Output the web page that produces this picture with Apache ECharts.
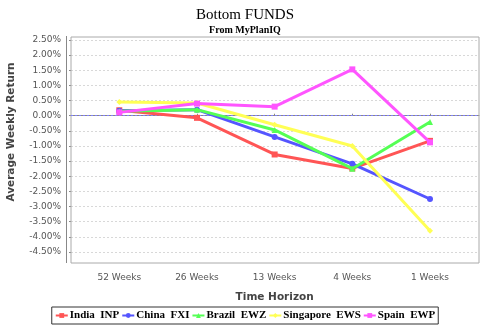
<!DOCTYPE html>
<html><head><meta charset="utf-8">
<script src="https://cdn.jsdelivr.net/npm/echarts@6/dist/echarts.min.js"></script>
<style>html,body{margin:0;padding:0;background:#fff}#c{width:490px;height:326px}</style>
</head><body><div id="c"></div>
<script>
const categories = ['52 Weeks', '26 Weeks', '13 Weeks', '4 Weeks', '1 Weeks'];
const seriesNames = ['India  INP', 'China  FXI', 'Brazil  EWZ', 'Singapore  EWS', 'Spain  EWP'];
const india = [0.18, -0.07, -1.28, -1.74, -0.83];
const china = [0.16, 0.20, -0.70, -1.59, -2.75];
const brazil = [0.15, 0.20, -0.47, -1.75, -0.21];
const singapore = [0.45, 0.42, -0.30, -1.00, -3.80];
const spain = [0.11, 0.40, 0.30, 1.53, -0.88];
const yMin = -4.5, yMax = 2.5, yStep = 0.5;

const colors = ['#FF5555', '#5555FF', '#55FF55', '#FFFF55', '#FF55FF'];
const symbols = ['rect', 'circle', 'triangle', 'diamond', 'rect'];
const values = [india, china, brazil, singapore, spain];

const chart = echarts.init(document.getElementById('c'), null, {renderer: 'canvas'});
const lineSeries = values.map((v, i) => ({
  name: seriesNames[i], type: 'line', xAxisIndex: 0, yAxisIndex: 0,
  data: v, symbol: symbols[i], symbolSize: 6, color: colors[i],
  lineStyle: {width: 3, color: colors[i]}, itemStyle: {color: colors[i]},
  clip: false, animation: false, z: 5 + i
}));
chart.setOption({
  animation: false,
  backgroundColor: '#fff',
  title: [
    {text: 'Bottom FUNDS', left: 'center', top: 3,
     textStyle: {fontFamily: 'Liberation Serif', fontSize: 15, fontWeight: 'normal', color: '#000'}},
    {text: 'From MyPlanIQ', left: 'center', top: 20,
     textStyle: {fontFamily: 'Liberation Serif', fontSize: 10, fontWeight: 'bold', color: '#000'}}
  ],
  grid: [
    {left: 119.3, top: 40, width: 310.7, height: 212},
    {left: 71, top: 40, width: 408, height: 212}
  ],
  xAxis: [
    {type: 'category', gridIndex: 0, data: categories, boundaryGap: false, offset: 15,
     axisLine: {show: false}, axisTick: {show: true, length: 2, inside: true, lineStyle: {color: '#888'}},
     axisLabel: {fontFamily: 'DejaVu Sans', fontSize: 9, color: '#555', margin: 6},
     splitLine: {show: false},
     name: 'Time Horizon', nameLocation: 'middle', nameGap: 25,
     nameTextStyle: {fontFamily: 'DejaVu Sans', fontSize: 10.5, fontWeight: 'bold', color: '#444'}},
    {type: 'value', gridIndex: 1, min: 0, max: 1, offset: 15,
     axisLine: {show: true, lineStyle: {color: '#888'}}, axisTick: {show: false}, axisLabel: {show: false}, splitLine: {show: false}}
  ],
  yAxis: [
    {type: 'value', gridIndex: 0, min: yMin, max: yMax, interval: yStep, show: false},
    {type: 'value', gridIndex: 1, min: yMin, max: yMax, interval: yStep, offset: 5,
     axisLine: {show: false}, axisTick: {show: true, length: 2, lineStyle: {color: '#888'}},
     axisLabel: {fontFamily: 'DejaVu Sans', fontSize: 9, color: '#555', margin: 5,
       formatter: v => v.toFixed(2) + '%'},
     splitLine: {show: true, lineStyle: {color: '#d8d8d8', type: [2, 2], width: 1}}}
  ],
  legend: {
    left: 'center', top: 307, data: seriesNames,
    borderColor: '#333', borderWidth: 1, padding: [3, 3], itemGap: 2,
    itemWidth: 12, itemHeight: 6,
    textStyle: {fontFamily: 'Liberation Serif', fontSize: 11, fontWeight: 'bold', color: '#000', padding: [0, 0, 0, -3]}
  },
  graphic: [
    {type: 'rect', shape: {x: 71, y: 37, width: 408, height: 226}, style: {fill: 'none', stroke: '#aaa', lineWidth: 1}, z: 1, silent: true},
    {type: 'line', shape: {x1: 66.5, y1: 36, x2: 66.5, y2: 263}, style: {stroke: '#888', lineWidth: 1}, silent: true},
    {type: 'text', rotation: Math.PI / 2, x: 11, y: 132,
     style: {text: 'Average Weekly Return', fontFamily: 'DejaVu Sans', fontSize: 10.5, fontWeight: 'bold', fill: '#444', align: 'center', verticalAlign: 'middle'}}
  ],
  series: [
    {type: 'line', xAxisIndex: 1, yAxisIndex: 1, data: [], silent: true,
     markLine: {silent: true, symbol: 'none', label: {show: false},
       lineStyle: {color: '#8080ff', type: [2, 2], width: 1}, data: [{yAxis: 0}]}}
  ].concat(lineSeries)
});
</script></body></html>
